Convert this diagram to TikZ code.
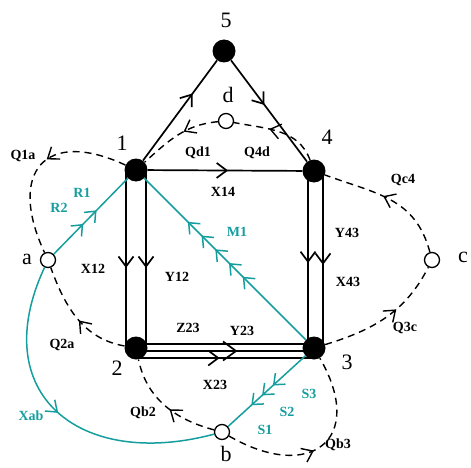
\documentclass[tikz,border=0pt]{standalone}
\usepackage{fontspec}
\setmainfont{Liberation Serif}
\usetikzlibrary{arrows.meta,decorations.markings}
\definecolor{cyn}{RGB}{22,158,158}
\tikzset{
    vtx/.style={circle,fill=black,inner sep=0pt,minimum size=23pt},
    hole/.style={circle,draw,line width=1.3pt,fill=white,inner sep=0pt,minimum size=15pt},
    num/.style={font=\fontsize{22}{22}\selectfont,inner sep=0pt},
    lab/.style={font=\fontsize{14}{14}\selectfont\bfseries,inner sep=0pt},
    clab/.style={lab,text=cyn},
    blk/.style={line width=1.7pt},
    cflow/.style={line width=1.5pt,cyn},
    dsh/.style={line width=1.4pt,dash pattern=on 7pt off 5pt},
    mk/.style={postaction={decorate},decoration={markings,mark=at position #1 with {\arrow{Straight Barb[length=10pt,width=15pt]}}}},
    mks/.style n args={3}{postaction={decorate},decoration={markings,mark=between positions #1 and #2 step #3 with {\arrow{Straight Barb[length=9pt,width=15pt]}}}},
}
\begin{document}
\begin{tikzpicture}[x=1pt,y=1pt]
    \useasboundingbox (0,0) rectangle (471,467);
    \node[vtx] (n1) at (136,297) {};
    \node[vtx] (n4) at (314,296) {};
    \node[vtx] (n2) at (136,119) {};
    \node[vtx] (n3) at (314,119) {};
    \node[vtx] (n5) at (224,416) {};
    \node[hole] (a) at (48,207) {};
    \node[hole] (b) at (222,35) {};
    \node[hole] (c) at (432,207) {};
    \node[hole] (d) at (226,346) {};
    \node[num] (t1) at (122,324) {1};
    \node[num] (t2) at (117,99) {2};
    \node[num] (t3) at (347,105) {3};
    \node[num] (t4) at (327,330) {4};
    \node[num] (t5) at (226,447) {5};
    \node[num] (ta) at (27,208) {a};
    \node[num] (tb) at (226,13) {b};
    \node[num] (tc) at (463,210) {c};
    \node[num] (td) at (228,372) {d};
    \node[lab] (q1a) at (23,311) {Q1a};
    \node[lab] (q2a) at (62,122) {Q2a};
    \node[lab] (qb2) at (143,54) {Qb2};
    \node[lab] (qb3) at (338,22) {Qb3};
    \node[lab] (q3c) at (405,139) {Q3c};
    \node[lab] (qc4) at (403,287) {Qc4};
    \node[lab] (q4d) at (257,314) {Q4d};
    \node[lab] (qd1) at (198,314) {Qd1};
    \node[lab] (x12) at (93,198) {X12};
    \node[lab] (y12) at (177,190) {Y12};
    \node[lab] (x14) at (223,275) {X14};
    \node[lab] (y43) at (347,234) {Y43};
    \node[lab] (x43) at (348,185) {X43};
    \node[lab] (z23) at (188,139) {Z23};
    \node[lab] (y23) at (242,136) {Y23};
    \node[lab] (x23) at (215,82) {X23};
    \node[clab] (r1) at (82,274) {R1};
    \node[clab] (r2) at (59,259) {R2};
    \node[clab] (m1) at (237,235) {M1};
    \node[clab] (s1) at (265,37) {S1};
    \node[clab] (s2) at (287,55) {S2};
    \node[clab] (s3) at (309,73) {S3};
    \node[clab] (xab) at (31,51) {Xab};
    \draw [blk,mk=0.67] (n1) to (n5);
    \draw [blk,mk=0.44] (n5) to (n4);
    \draw [blk,mk=0.52] (n1) to (n4);
    \draw [blk,mk=0.55] ([xshift=-10pt]n1.center) to ([xshift=-10pt]n2.center);
    \draw [blk,mk=0.55] ([xshift=10pt]n1.center) to ([xshift=10pt]n2.center);
    \draw [blk,mk=0.52] ([xshift=-6pt]n4.center) to ([xshift=-6pt]n3.center);
    \draw [blk,mk=0.53] ([xshift=9pt]n4.center) to ([xshift=9pt]n3.center);
    \draw [blk] ([yshift=4pt]n2.center) to ([yshift=4pt]n3.center);
    \draw [blk,postaction={decorate},decoration={markings,mark=at position 0.57 with {\arrow{Straight Barb[length=13pt,width=19pt]}}}] ([yshift=-3pt]n2.center) to ([yshift=-3pt]n3.center);
    \draw [blk,mk=0.47] ([yshift=-10pt]n2.center) to ([yshift=-10pt]n3.center);
    \draw [cflow,mks={0.40}{0.59}{0.18}] (a) to (n1);
    \draw [cflow,mks={0.39}{0.74}{0.085}] (n3) to (n1);
    \draw [cflow,mks={0.42}{0.71}{0.14}] (n3) to (b);
    \draw [cflow,mk=0.49] (a) to[out=-115,in=195,looseness=1.5] (b);
    \draw [dsh,mk=0.45] (n1) to[out=155,in=115,looseness=1.9] (a);
    \draw [dsh,mk=0.47] (n2) to[out=170,in=-70] (a);
    \draw [dsh,mk=0.45] (b) to[out=165,in=-78] (n2);
    \draw [dsh,mk=0.46] (b) to[out=-30,in=-60,looseness=2] (n3);
    \draw [dsh,mk=0.6] (n3) to[out=17,in=-117] (c);
    \draw [dsh,mk=0.55] (c) to[out=105,in=-20,looseness=1.1] (n4);
    \draw [dsh,mk=0.6] (n4) to[out=110,in=-11] (d);
    \draw [dsh,mk=0.42] (d) to[out=185,in=42] (n1);
\end{tikzpicture}
\end{document}
